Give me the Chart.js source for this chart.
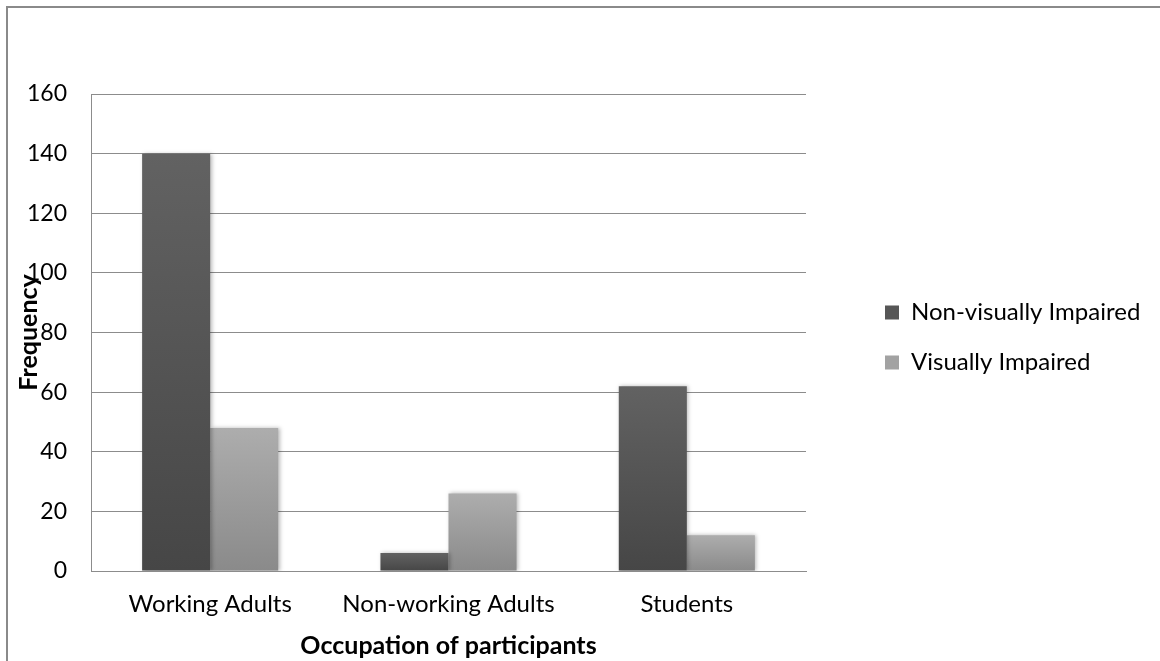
<!DOCTYPE html>
<html>
<head>
<meta charset="utf-8">
<script src="https://cdn.jsdelivr.net/npm/chart.js@4.4.1/dist/chart.umd.min.js"></script>
<style>
  html, body { margin: 0; padding: 0; background: #fff; overflow: hidden; }
  #wrap { position: relative; width: 1160px; height: 661px; }
  #frame { position: absolute; left: 6px; top: 6px; width: 1180px; height: 680px;
           border: 2px solid #8a8a8a; box-sizing: border-box; }
  canvas { position: absolute; left: 0; top: 0; }
</style>
</head>
<body>
<div id="wrap">
  <div id="frame"></div>
  <canvas id="chart" width="1160" height="661"></canvas>
</div>
<script>
// Participants by occupation and vision status
const categories = ['Working Adults', 'Non-working Adults', 'Students'];
const seriesNames = ['Non-visually Impaired', 'Visually Impaired'];
const nonVisuallyImpaired = [140, 6, 62];
const visuallyImpaired = [48, 26, 12];
const yTickValues = [0, 20, 40, 60, 80, 100, 120, 140, 160];
const xAxisTitle = 'Occupation of participants';
const yAxisTitle = 'Frequency';

const FONT = 'Lato, "Open Sans", sans-serif';
const GRID = '#8c8c8c';
const LEGEND_FONT = 24;
const LEGEND_PAD = 26;
const LEGEND_BOX = 14;

// vertical shading for each bar, from its top down to the baseline
function barGradient(topColor, bottomColor) {
  return (ctx) => {
    const chart = ctx.chart;
    if (ctx.type !== 'data' || !chart.chartArea) return bottomColor;
    const y = chart.scales.y;
    const yTop = y.getPixelForValue(ctx.raw);
    const yBase = y.getPixelForValue(0);
    if (!isFinite(yTop) || !isFinite(yBase) || yTop === yBase) return bottomColor;
    const g = chart.ctx.createLinearGradient(0, yTop, 0, yBase);
    g.addColorStop(0, topColor);
    g.addColorStop(1, bottomColor);
    return g;
  };
}

const legendSwatch = ['#565656', '#a2a2a2'];

// soft drop shadow behind the bars
const barShadow = {
  id: 'barShadow',
  beforeDatasetsDraw(chart) {
    const c = chart.ctx;
    c.save();
    c.shadowColor = 'rgba(0,0,0,0.28)';
    c.shadowBlur = 4;
    c.shadowOffsetX = 1.5;
    c.shadowOffsetY = 0;
  },
  afterDatasetsDraw(chart) {
    chart.ctx.restore();
  }
};

// right padding chosen so the legend sits in the right-hand margin
const measure = document.createElement('canvas').getContext('2d');
measure.font = LEGEND_FONT + 'px ' + FONT;
const legendTextW = Math.max(...seriesNames.map(s => measure.measureText(s).width));
const legendW = 10 + LEGEND_PAD + LEGEND_BOX + LEGEND_FONT / 2 + legendTextW;
const plotRight = 806, legendGap = 53;
const padRight = Math.max(0, 1160 - plotRight - legendGap - legendW);

new Chart(document.getElementById('chart'), {
  type: 'bar',
  data: {
    labels: categories,
    datasets: [
      {
        label: seriesNames[0],
        data: nonVisuallyImpaired,
        backgroundColor: barGradient('#626262', '#464646'),
        borderWidth: 0
      },
      {
        label: seriesNames[1],
        data: visuallyImpaired,
        backgroundColor: barGradient('#adadad', '#8a8a8a'),
        borderWidth: 0
      }
    ]
  },
  options: {
    responsive: false,
    devicePixelRatio: 1,
    animation: false,
    events: [],
    layout: { padding: { left: 10, top: 14, right: padRight, bottom: 0 } },
    datasets: {
      bar: { categoryPercentage: 0.571, barPercentage: 1.0 }
    },
    scales: {
      x: {
        grid: { display: false, drawTicks: false },
        border: { display: true, color: GRID, width: 1 },
        ticks: { color: '#000', font: { family: FONT, size: 24 }, padding: 19, maxRotation: 0 },
        title: {
          display: true, text: xAxisTitle, color: '#000',
          font: { family: FONT, size: 25, weight: 'bold' },
          padding: { top: 0, bottom: 0 }
        },
        afterFit(scale) { scale.height = 90; }
      },
      topSpace: {
        type: 'category', position: 'top', display: true,
        grid: { display: false, drawTicks: false },
        border: { display: false },
        ticks: { display: false },
        afterFit(scale) { scale.height = 80; }
      },
      y: {
        min: 0, max: 160,
        afterBuildTicks(scale) { scale.ticks = yTickValues.map(v => ({ value: v })); },
        grid: { color: GRID, lineWidth: 1, drawTicks: false },
        border: { display: true, color: GRID, width: 1 },
        ticks: { color: '#000', font: { family: FONT, size: 23 }, padding: 24 },
        title: {
          display: true, text: yAxisTitle, color: '#000',
          font: { family: FONT, size: 25, weight: 'bold' },
          padding: { top: 4, bottom: 0 }
        },
        afterFit(scale) { scale.width = 81; }
      },
      gap: {
        type: 'linear', position: 'right', display: true,
        grid: { display: false, drawTicks: false },
        border: { display: false },
        ticks: { display: false },
        afterFit(scale) { scale.width = legendGap; }
      }
    },
    plugins: {
      tooltip: { enabled: false },
      legend: {
        position: 'right',
        align: 'center',
        maxWidth: 420,
        labels: {
          color: '#000',
          font: { family: FONT, size: LEGEND_FONT },
          boxWidth: LEGEND_BOX,
          boxHeight: LEGEND_BOX,
          padding: LEGEND_PAD,
          generateLabels(chart) {
            const items = Chart.defaults.plugins.legend.labels.generateLabels(chart);
            items.forEach((it, i) => { it.fillStyle = legendSwatch[i]; it.strokeStyle = legendSwatch[i]; it.lineWidth = 0; });
            return items;
          }
        }
      }
    }
  },
  plugins: [barShadow]
});
</script>
</body>
</html>
